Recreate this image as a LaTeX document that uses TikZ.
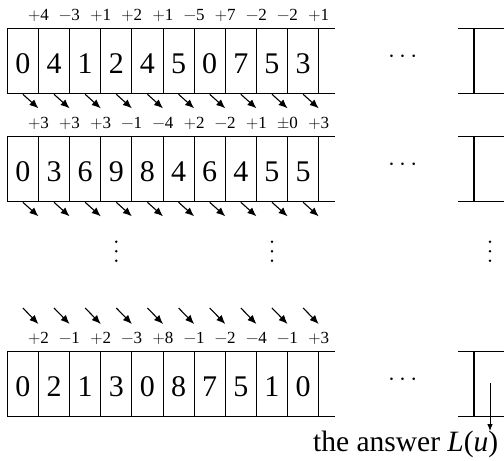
\documentclass[tikz,border=0pt]{standalone}
\usepackage{fontspec}
\setmainfont{Liberation Serif}
\newfontfamily\lmfont{Latin Modern Roman}
\usetikzlibrary{arrows.meta}

% signs of the differences, set in Latin Modern
\newcommand\sgnplus{{\lmfont +}}
\newcommand\sgnminus{{\lmfont −}}
\newcommand\sgnpm{{\lmfont ±}}
\newcommand\difftext[1]{{\fontsize{17}{19}\selectfont #1}}

\begin{document}
\begin{tikzpicture}[x=1pt,y=-1pt,
  cell/.style={draw, line width=0.8pt, minimum width=31.14pt, minimum height=64.5pt,
    inner sep=0pt, font=\fontsize{30}{32}\selectfont, text height=24.5pt, text depth=0pt},
  rowline/.style={line width=0.8pt},
  difflabel/.style={inner sep=0pt},
  carry/.style={line width=1.1pt, -{Latex[length=9pt,width=7.5pt]}},
  endbar/.style={line width=1.3pt},
  gap/.style={inner sep=0pt, font=\fontsize{27.5}{30}\selectfont},
  result/.style={line width=0.8pt, -{Latex[length=7pt,width=5.5pt]}}]

\useasboundingbox (0,0) rectangle (504,461);

\def\xo{7.3}
\def\cw{31.14}

% three rows of cells with the differences written above them
\foreach \r/\T/\vals/\diffs in {
  1/28.5/{0,4,1,2,4,5,0,7,5,3}/{\sgnplus4,\sgnminus3,\sgnplus1,\sgnplus2,\sgnplus1,\sgnminus5,\sgnplus7,\sgnminus2,\sgnminus2,\sgnplus1},
  2/136.5/{0,3,6,9,8,4,6,4,5,5}/{\sgnplus3,\sgnplus3,\sgnplus3,\sgnminus1,\sgnminus4,\sgnplus2,\sgnminus2,\sgnplus1,\sgnpm0,\sgnplus3},
  3/351.5/{0,2,1,3,0,8,7,5,1,0}/{\sgnplus2,\sgnminus1,\sgnplus2,\sgnminus3,\sgnplus8,\sgnminus1,\sgnminus2,\sgnminus4,\sgnminus1,\sgnplus3}}{
  \foreach \v [count=\k from 0] in \vals {
    \node[cell] (r\r c\k) at ({\xo+(\k+0.5)*\cw}, {\T+32.25}) {\v};
  }
  \foreach \d [count=\k from 1] in \diffs {
    \node[difflabel] (d\r-\k) at ({\xo+\k*\cw}, {\T-13.5}) {\difftext{\d}};
  }
  % open continuation of the row
  \draw[rowline] (r\r c9.north east) -- ++(16,0);
  \draw[rowline] (r\r c9.south east) -- ++(16,0);
  % the far cell at the right edge
  \draw[rowline] (458.3,\T) -- (504,\T);
  \draw[rowline] (458.3,{\T+64.5}) -- (504,{\T+64.5});
  \draw[endbar] (474,\T) -- (474,{\T+64.5});
  \node[gap] (hd\r) at (402.7,{\T+28.75}) {$\cdots$};
}

% carry arrows below rows 1 and 2
\foreach \r/\B in {1/93, 2/201}{
  \foreach \k in {0,...,9}{
    \coordinate (s\r-\k) at ({\xo+(\k+0.5)*\cw}, {\B+1.3});
    \coordinate (e\r-\k) at ({\xo+(\k+1)*\cw}, {\B+15.3});
    \draw[carry] (s\r-\k) -- (e\r-\k);
  }
}
% carry arrows above row 3
\foreach \k in {0,...,9}{
  \coordinate (s3-\k) at ({\xo+(\k+0.5)*\cw}, 308);
  \coordinate (e3-\k) at ({\xo+(\k+1)*\cw}, 324);
  \draw[carry] (s3-\k) -- (e3-\k);
}

% vertical ellipses between the rows
\foreach \x in {116.3, 272, 490}{
  \foreach \y in {241.7, 251.2, 260.7}{
    \fill (\x,\y) circle[radius=1.4pt];
  }
}

% reading off the result
\coordinate (ra-s) at (490,383);
\coordinate (ra-e) at (490,431);
\draw[result] (ra-s) -- (ra-e);
\node[anchor=base east, inner sep=0pt, font=\fontsize{29.5}{31}\selectfont] (ans) at (498.5,451)
  {the answer \textit{L}(\textit{u})};
\end{tikzpicture}
\end{document}
